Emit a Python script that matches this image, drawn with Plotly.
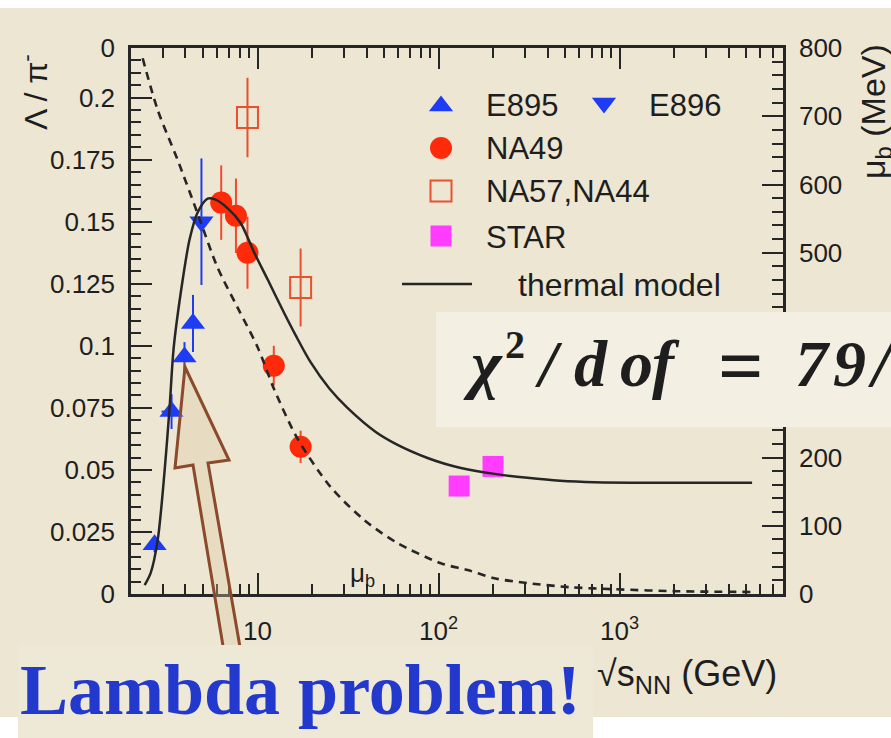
import numpy as np
import plotly.graph_objects as go

# ---------------- data ----------------
thermal_sqrt_s = [2.38, 2.57, 2.81, 3.06, 3.27, 3.44, 3.86, 4.21, 4.66, 5.3, 5.86, 6.8, 8.05,
                  9.6, 11.4, 14.1, 16.2, 19.6, 25, 31.4, 45, 59.4, 87, 107, 133, 204, 310,
                  470, 730, 1690, 5400]
thermal_ratio = [0.0036, 0.0085, 0.0218, 0.0488, 0.0754, 0.099, 0.1266, 0.1427, 0.1536,
                 0.1593, 0.1589, 0.1556, 0.1496, 0.1375, 0.1266, 0.1129, 0.1044, 0.0935,
                 0.0827, 0.0750, 0.0653, 0.0601, 0.0548, 0.0526, 0.0508, 0.0484, 0.0468,
                 0.0456, 0.0450, 0.0448, 0.0448]

mub_sqrt_s = [2.32, 2.81, 3.62, 4.66, 6.0, 7.75, 10, 12.4, 16.6, 25.3, 39, 59, 103, 145,
              204, 310, 530, 935, 2100, 5400]
mub_MeV = [785, 709, 636, 558, 479, 420, 362, 299, 228, 157, 108, 75, 45, 35, 23, 16, 10,
           7, 4, 3]

e895_s = [2.7, 3.35, 3.95, 4.4]
e895_r = [0.0198, 0.0735, 0.0955, 0.109]
e895_err = [0.003, 0.007, 0.006, 0.0115]
e895_xerr = [0, 0.4, 0, 0]

e896_s = [4.9]
e896_r = [0.150]
e896_err = [0.0255]

na49_s = [6.3, 7.6, 8.8, 12.3, 17.3]
na49_r = [0.1577, 0.1524, 0.1375, 0.092, 0.0593]
na49_err = [0.015, 0.015, 0.0145, 0.008, 0.0065]

na57_s = [8.8, 17.3]
na57_r = [0.192, 0.1235]
na57_err = [0.016, 0.0157]

star_s = [130, 200]
star_r = [0.0435, 0.0514]
star_err = [0.003, 0.002]

left_ticks = [0, 0.025, 0.05, 0.075, 0.1, 0.125, 0.15, 0.175, 0.2, 0.22]
left_ticktext = ["0", "0.025", "0.05", "0.075", "0.1", "0.125", "0.15", "0.175", "0.2", "0"]
right_ticks = [0, 100, 200, 300, 400, 500, 600, 700, 800]
# 300 and 400 sit under the chi^2 panel in the reference, so they are not visible there
right_ticktext = ["0", "100", "200", "", "", "500", "600", "700", "800"]
x_ticks = [10, 100, 1000]
x_ticktext = ["10", "10<sup>2</sup>", "10<sup>3</sup>"]

# ---------------- styling ----------------
BLUE = "#1f3cf5"
RED = "#ff2a0a"
RED_OPEN = "#e8502e"
MAGENTA = "#ff3cff"
INK = "#262626"
BG = "#ede6d2"
FONT = "Liberation Sans, Arial, sans-serif"

W, H = 891, 738
L, R, T, B = 131, 783, 48, 594


def px(X):
    return (X - L) / (R - L)


def py(Y):
    return (B - Y) / (B - T)


fig = go.Figure()

# data markers
fig.add_trace(go.Scatter(x=e895_s, y=e895_r, mode="markers",
                         marker=dict(symbol="triangle-up", size=21, color=BLUE),
                         error_y=dict(type="data", array=e895_err, color=BLUE, thickness=2, width=0),
                         error_x=dict(type="data", array=e895_xerr, color=BLUE, thickness=2, width=0),
                         showlegend=False))
fig.add_trace(go.Scatter(x=e896_s, y=e896_r, mode="markers",
                         marker=dict(symbol="triangle-down", size=21, color=BLUE),
                         error_y=dict(type="data", array=e896_err, color=BLUE, thickness=2, width=0),
                         showlegend=False))
fig.add_trace(go.Scatter(x=na49_s, y=na49_r, mode="markers",
                         marker=dict(symbol="circle", size=22, color=RED),
                         error_y=dict(type="data", array=na49_err, color="#f04a30", thickness=2, width=0),
                         showlegend=False))
fig.add_trace(go.Scatter(x=na57_s, y=na57_r, mode="markers",
                         marker=dict(symbol="square-open", size=21, color=RED_OPEN,
                                     line=dict(width=2, color=RED_OPEN)),
                         error_y=dict(type="data", array=na57_err, color=RED_OPEN, thickness=2, width=0),
                         showlegend=False))
fig.add_trace(go.Scatter(x=star_s, y=star_r, mode="markers",
                         marker=dict(symbol="square", size=21, color=MAGENTA),
                         error_y=dict(type="data", array=star_err, color=MAGENTA, thickness=2, width=0),
                         showlegend=False))

# curves
fig.add_trace(go.Scatter(x=thermal_sqrt_s, y=thermal_ratio, mode="lines",
                         line=dict(color=INK, width=2.5, shape="spline", smoothing=0.8),
                         showlegend=False))
fig.add_trace(go.Scatter(x=mub_sqrt_s, y=mub_MeV, mode="lines", yaxis="y2",
                         line=dict(color=INK, width=2.6, dash="8px,6px", shape="spline", smoothing=0.8),
                         showlegend=False))

# hand-made legend symbols (overlay axis in plot-fraction coordinates)
leg_x = px(441)
fig.add_trace(go.Scatter(x=[leg_x], y=[py(106)], xaxis="x3", yaxis="y3", mode="markers",
                         marker=dict(symbol="triangle-up", size=21, color=BLUE), showlegend=False))
fig.add_trace(go.Scatter(x=[px(604)], y=[py(103)], xaxis="x3", yaxis="y3", mode="markers",
                         marker=dict(symbol="triangle-down", size=21, color=BLUE), showlegend=False))
fig.add_trace(go.Scatter(x=[leg_x], y=[py(148)], xaxis="x3", yaxis="y3", mode="markers",
                         marker=dict(symbol="circle", size=22, color=RED), showlegend=False))
fig.add_trace(go.Scatter(x=[leg_x], y=[py(191)], xaxis="x3", yaxis="y3", mode="markers",
                         marker=dict(symbol="square-open", size=21, color=RED_OPEN,
                                     line=dict(width=2, color=RED_OPEN)), showlegend=False))
fig.add_trace(go.Scatter(x=[leg_x], y=[py(236)], xaxis="x3", yaxis="y3", mode="markers",
                         marker=dict(symbol="square", size=21, color=MAGENTA), showlegend=False))
fig.add_trace(go.Scatter(x=[px(402), px(472)], y=[py(284), py(284)], xaxis="x3", yaxis="y3",
                         mode="lines", line=dict(color=INK, width=2.5), showlegend=False))

annotations = []


def txt(X, Y, s, size=31, xanchor="left", yanchor="middle", color="#1e1e1e", family=FONT, angle=0):
    annotations.append(dict(x=px(X), y=py(Y), xref="paper", yref="paper", text=s, showarrow=False,
                            xanchor=xanchor, yanchor=yanchor, textangle=angle,
                            font=dict(size=size, color=color, family=family)))


# legend texts
txt(484, 106, "E895")
txt(647, 106, "E896")
txt(484, 148, "NA49")
txt(484, 192, "NA57,NA44")
txt(484, 237, "STAR")
txt(516, 285, "thermal model", size=32)

# mu_b curve label
txt(362, 574, "μ<sub>b</sub>", size=26, xanchor="center")

# axis titles
txt(34, 92, "Λ / π<sup>-</sup>", size=32, xanchor="center", angle=-90)
txt(875, 112, "μ<sub>b</sub> (MeV)", size=34, xanchor="center", angle=-90)
txt(595, 676, "√s<sub>NN</sub> (GeV)", size=36)

shapes = []


def rect(x0, y0, x1, y1, color):
    shapes.append(dict(type="rect", xref="paper", yref="paper", x0=px(x0), x1=px(x1),
                       y0=py(y1), y1=py(y0), fillcolor=color, line=dict(width=0), layer="above"))


# arrow (decoration)
arrow_pts = [(185, 367), (229, 460), (208, 463), (244, 670), (227, 670), (193, 465), (175, 468)]
path = "M " + " L ".join(f"{px(a):.5f},{py(b):.5f}" for a, b in arrow_pts) + " Z"
shapes.append(dict(type="path", xref="paper", yref="paper", path=path,
                   fillcolor="rgba(222,200,165,0.35)", line=dict(color="#8b4a2c", width=3),
                   layer="above"))

# chi2 panel and "Lambda problem!" panel
rect(436, 312, 891, 427, "#f3efe3")
rect(18, 645, 593, 738, "#eee8d6")
# white margins of the screenshot
rect(0, 0, 891, 8, "#ffffff")
rect(0, 717, 18, 738, "#ffffff")
rect(593, 717, 891, 738, "#ffffff")

# chi2 / dof = 79/  (math-style bold italic, placed glyph group by glyph group)
CHI_FONT = "Liberation Serif, Times New Roman, serif"
CY = 364
txt(461, CY, "<b><i>χ</i></b>", size=66, family=CHI_FONT)
txt(503, CY - 20, "<b>2</b>", size=40, family=CHI_FONT)
txt(533, CY, "<b><i>/</i></b>", size=66, family=CHI_FONT)
txt(572, CY, "<b><i>d</i></b>", size=66, family=CHI_FONT)
txt(618, CY, "<b><i>o</i></b>", size=66, family=CHI_FONT)
txt(650, CY, "<b><i>f</i></b>", size=66, family=CHI_FONT)
txt(741, CY + 2, "<b>=</b>", size=80, xanchor="center", family=CHI_FONT)
txt(793, CY, "<b><i>7</i></b>", size=66, family=CHI_FONT)
txt(831, CY, "<b><i>9</i></b>", size=66, family=CHI_FONT)
txt(866, CY, "<b><i>/</i></b>", size=66, family=CHI_FONT)

# Lambda problem!
txt(18, 690, "<b>Lambda problem!</b>", size=72, color="#2338cc",
    family="Liberation Serif, Times New Roman, serif")

axis_common = dict(showline=True, linecolor=INK, linewidth=2.5, ticks="inside",
                   tickcolor=INK, tickwidth=1.8, ticklen=21, showgrid=False, zeroline=False,
                   automargin=False, tickfont=dict(family=FONT, size=26, color="#1e1e1e"))

fig.update_layout(
    width=W, height=H,
    margin=dict(l=L, r=W - R, t=T, b=H - B, pad=0),
    paper_bgcolor=BG, plot_bgcolor=BG,
    template="none",
    showlegend=False,
    xaxis=dict(type="log", range=[np.log10(2), np.log10(8000)], tickmode="array",
               tickvals=x_ticks, ticktext=x_ticktext, mirror="ticks", ticklabelstandoff=12,
               minor=dict(ticks="inside", ticklen=10, tickcolor=INK, tickwidth=1.5,
                          tickvals=[m * 10 ** e for e in range(0, 4) for m in range(2, 10)
                                    if 2 <= m * 10 ** e <= 8000],
                          showgrid=False),
               **axis_common),
    yaxis=dict(range=[0, 0.22], tickmode="array", tickvals=left_ticks, ticktext=left_ticktext,
               ticklabelstandoff=8,
               minor=dict(ticks="inside", ticklen=10, tickcolor=INK, tickwidth=1.5,
                          tickvals=list(np.round(np.arange(0, 0.2201, 0.005), 4)), showgrid=False),
               **axis_common),
    yaxis2=dict(range=[0, 800], overlaying="y", side="right", anchor="x", tickmode="array",
                tickvals=right_ticks, ticktext=right_ticktext, ticklabelstandoff=8,
                minor=dict(ticks="inside", ticklen=11, tickcolor=INK, tickwidth=1.5,
                           tickvals=list(range(0, 801, 20)), showgrid=False),
                **axis_common),
    xaxis3=dict(range=[0, 1], overlaying="x", visible=False, anchor="y3"),
    yaxis3=dict(range=[0, 1], overlaying="y", visible=False, anchor="x3"),
    annotations=annotations,
    shapes=shapes,
)

fig.write_html("out.html")
